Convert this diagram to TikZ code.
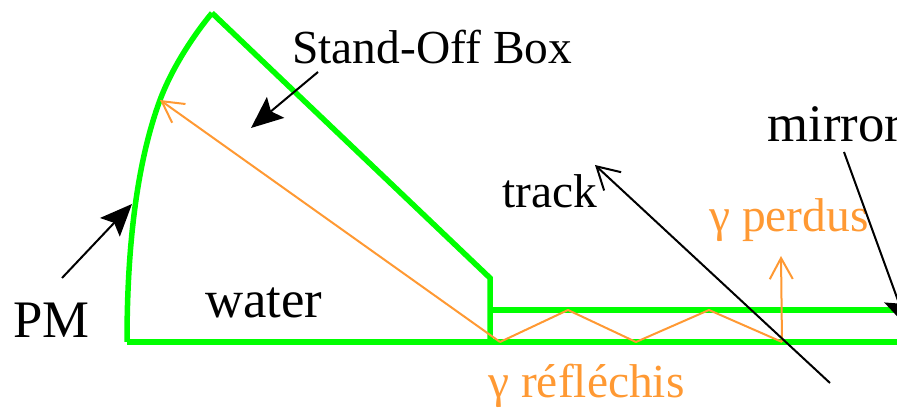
\documentclass[tikz,border=0pt]{standalone}
\usepackage{fontspec}
\setmainfont{Liberation Serif}
\usetikzlibrary{arrows.meta}
\definecolor{figgreen}{rgb}{0,1,0}
\definecolor{figorange}{rgb}{1,0.6,0.2}
\tikzset{
  wall/.style={draw=figgreen,line width=1.1mm},
  ray/.style={draw=figorange,line width=0.4mm},
  rayhead/.style={ray,-{Straight Barb[length=4.2mm,width=4.6mm,line width=0.4mm]}},
  ln/.style={draw=black,line width=0.4mm,-{Stealth[length=6.4mm,width=5.4mm,inset=1.2mm]}},
  trackline/.style={draw=black,line width=0.4mm,-{Straight Barb[length=4.4mm,width=5mm,line width=0.4mm]}},
  lbl/.style={font=\fontsize{27}{30}\selectfont,anchor=base west,inner sep=0pt,text=black},
  biglbl/.style={lbl,font=\fontsize{30}{33}\selectfont},
  raylbl/.style={lbl,font=\fontsize{27}{30}\selectfont,text=figorange},
}
\begin{document}
\begin{tikzpicture}[x=0.2mm,y=-0.2mm]
\useasboundingbox (0,0) rectangle (897,408);

% outline of the water volume
\coordinate (pmbot) at (127,342);
\coordinate (pmmid) at (160,100);
\coordinate (pmtop) at (212,13);
\coordinate (sbox) at (490,278);
\coordinate (sboxbot) at (490,342);
\coordinate (chtop) at (490,310);
\coordinate (chtopend) at (897,310);
\coordinate (chbotend) at (897,342);
\draw[wall,line join=round] (pmbot) .. controls (127,250) and (136,165) .. (pmmid)
  .. controls (172,68) and (193,36) .. (pmtop);
\draw[wall] (pmtop) -- (sbox) -- (sboxbot);
\draw[wall] (pmbot) -- (chbotend);
\draw[wall] (chtop) -- (chtopend);

% reflected light
\coordinate (r1) at (500,342);
\coordinate (r2) at (568,310);
\coordinate (r3) at (636,342);
\coordinate (r4) at (709,310);
\coordinate (r5) at (782,342);
\coordinate (r6) at (781,256);
\draw[rayhead] (r1) -- (pmmid);
\draw[ray,line join=round] (r1) -- (r2) -- (r3) -- (r4) -- (r5);
\draw[rayhead] (r5) -- (r6);

% track
\coordinate (trkin) at (830,383);
\coordinate (trkout) at (595,165);
\draw[trackline] (trkin) -- (trkout);

% labels
\node[lbl] (standoff) at (292,64) {Stand-Off Box};
\node[biglbl] (pm) at (13,338) {PM};
\node[biglbl] (water) at (205,318) {water};
\node[lbl] (track) at (502,208) {track};
\node[biglbl] (mirror) at (767,142) {mirror};
\node[raylbl] (lost) at (709,232) {γ perdus};
\node[raylbl] (refl) at (488,398) {γ réfléchis};

% pointers
\coordinate (sofrom) at (318,72);
\coordinate (soto) at (251,128);
\coordinate (pmfrom) at (62,278);
\coordinate (pmto) at (132,204);
\coordinate (mirfrom) at (844,152);
\coordinate (mirto) at (908,328);
\draw[ln] (sofrom) -- (soto);
\draw[ln] (pmfrom) -- (pmto);
\draw[ln] (mirfrom) -- (mirto);
\end{tikzpicture}
\end{document}
